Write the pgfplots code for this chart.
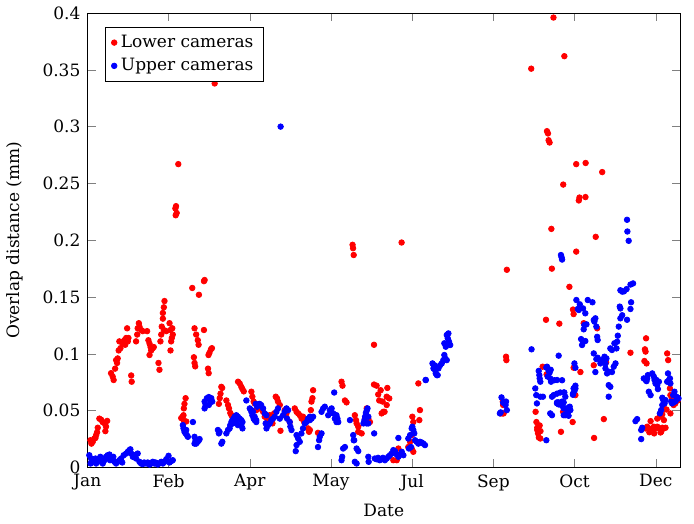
\documentclass[border=0pt]{standalone}
\usepackage{fontspec}
\setmainfont{DejaVu Serif}
\usepackage{pgfplots}
\pgfplotsset{compat=1.18}
\begin{document}
\begin{tikzpicture}[font=\fontsize{8.6}{10}\selectfont]
\begin{axis}[
  scale only axis,
  width=300pt, height=230pt,
  xmin=0, xmax=365, ymin=0, ymax=0.4,
  xtick={0,50,100,150,200,250,300,350},
  xticklabels={Jan,Feb,Apr,May,Jul,Sep,Oct,Dec},
  ytick={0,0.05,0.1,0.15,0.2,0.25,0.3,0.35,0.4},
  yticklabels={0,0.05,0.1,0.15,0.2,0.25,0.3,0.35,0.4},
  /pgf/number format/assume math mode=true,
  xlabel={Date}, ylabel={Overlap distance (mm)},
  ylabel style={yshift=3pt},
  legend pos=north west,
  legend cell align=left,
]
\addplot[only marks, mark=*, mark size=1.4pt, draw=red, fill=red] table {
1.9 0.024
2.5 0.021
3.3 0.0225
4.3 0.0255
5.0 0.026
5.4 0.0285
6.0 0.031
6.4 0.035
7.4 0.043
8.5 0.042
9.4 0.040
10.5 0.039
11.5 0.036
12.2 0.041
11.1 0.032
14.6 0.083
15.6 0.080
16.2 0.077
17.1 0.087
17.7 0.0945
18.7 0.096
18.3 0.092
19.3 0.103
19.7 0.111
20.4 0.105
21.8 0.109
22.8 0.112
23.3 0.108
23.9 0.114
24.5 0.1225
24.9 0.111
25.3 0.114
27.0 0.081
27.3 0.0755
30.0 0.111
30.7 0.117
31.0 0.1225
31.7 0.127
32.1 0.124
33.1 0.121
34.1 0.120
36.8 0.120
37.6 0.112
38.3 0.109
38.9 0.106
38.3 0.099
39.3 0.103
40.3 0.105
40.9 0.106
43.8 0.092
44.4 0.086
45.0 0.111
45.5 0.117
45.8 0.124
46.5 0.131
46.5 0.136
47.1 0.141
47.5 0.1465
47.1 0.121
48.6 0.120
50.6 0.127
51.2 0.121
51.6 0.111
52.0 0.114
52.6 0.117
51.2 0.103
52.3 0.1225
54.2 0.228
54.6 0.230
54.4 0.222
55.0 0.224
56.0 0.267
57.8 0.0435
58.8 0.045
59.2 0.046
59.4 0.052
59.8 0.056
60.5 0.061
60.9 0.0405
59.5 0.041
64.6 0.158
68.7 0.152
71.8 0.164
72.2 0.165
66.0 0.1225
67.0 0.117
68.0 0.112
68.5 0.108
71.8 0.121
65.6 0.097
66.0 0.092
66.4 0.089
74.6 0.099
75.2 0.101
76.1 0.104
76.7 0.105
74.3 0.087
74.7 0.083
78.4 0.338
81.0 0.056
81.5 0.061
82.0 0.065
82.5 0.071
83.0 0.070
85.6 0.059
86.6 0.055
87.2 0.052
88.0 0.048
88.7 0.046
89.5 0.044
92.8 0.0755
93.8 0.074
94.8 0.071
95.5 0.069
96.3 0.067
101.0 0.0667
101.6 0.0623
102.4 0.058
103.0 0.0564
104.0 0.0505
106.0 0.052
108.2 0.049
109.2 0.0447
110.3 0.046
111.0 0.0417
112.3 0.046
113.0 0.040
114.0 0.0388
115.0 0.0476
116.0 0.0623
116.8 0.0608
117.4 0.058
118.5 0.055
118.9 0.0323
121.5 0.0505
122.6 0.0476
124.6 0.040
127.7 0.052
128.8 0.049
129.8 0.0476
130.8 0.046
131.9 0.043
132.8 0.0447
133.5 0.040
134.9 0.0417
135.9 0.0344
136.5 0.0314
137.0 0.033
137.6 0.0505
138.0 0.058
138.6 0.061
139.0 0.068
142.0 0.0305
156.5 0.0755
157.1 0.072
158.6 0.059
159.6 0.0573
163.3 0.196
163.6 0.193
164.0 0.187
164.7 0.046
165.4 0.0417
165.8 0.0388
166.8 0.0359
166.8 0.0314
168.9 0.030
170.9 0.043
172.0 0.052
173.0 0.043
174.0 0.040
176.5 0.108
176.5 0.073
178.1 0.072
179.1 0.0643
179.7 0.059
180.6 0.068
181.2 0.0476
181.8 0.058
182.2 0.049
183.0 0.049
184.3 0.0623
184.7 0.070
185.9 0.0608
184.3 0.055
188.4 0.0064
190.5 0.0064
191.5 0.0167
193.5 0.198
193.5 0.0123
197.6 0.018
198.7 0.0226
199.7 0.0285
199.7 0.0167
200.1 0.0447
200.7 0.040
200.7 0.0138
203.8 0.074
204.4 0.0417
204.8 0.0505
254.5 0.0476
255.5 0.0476
256.3 0.0476
255.8 0.058
256.0 0.055
257.8 0.0975
258.0 0.0945
258.3 0.174
273.3 0.351
276.0 0.049
276.5 0.040
277.0 0.033
277.5 0.030
278.0 0.0264
277.0 0.035
278.5 0.037
279.0 0.032
278.9 0.0255
280.3 0.0887
282.4 0.130
282.8 0.082
283.0 0.296
283.6 0.294
284.0 0.288
284.6 0.286
285.7 0.210
286.0 0.175
287.0 0.396
290.6 0.1266
291.6 0.0314
292.9 0.049
293.0 0.249
293.7 0.362
296.8 0.159
298.8 0.040
299.0 0.139
299.4 0.135
299.4 0.0878
300.5 0.0637
301.0 0.267
301.0 0.190
302.6 0.235
303.0 0.2376
303.6 0.084
305.6 0.127
306.7 0.238
306.8 0.268
311.8 0.090
312.0 0.026
313.0 0.203
313.9 0.1225
317.0 0.260
318.0 0.0426
319.4 0.0925
334.4 0.101
343.0 0.0937
343.3 0.104
343.7 0.102
344.0 0.1137
344.3 0.0916
343.7 0.0344
344.7 0.0359
345.7 0.0344
346.0 0.031
346.8 0.0408
347.8 0.0344
348.8 0.0359
349.0 0.030
349.8 0.0344
350.9 0.0359
351.9 0.0344
352.9 0.0308
353.3 0.0314
354.0 0.035
355.0 0.0344
356.0 0.035
350.9 0.043
352.5 0.0447
354.0 0.0467
355.0 0.0417
354.5 0.0535
356.6 0.051
357.0 0.1004
357.6 0.0945
358.7 0.0696
359.0 0.0637
359.0 0.0476
360.0 0.0608
361.0 0.055
362.0 0.0564
362.7 0.0608
363.5 0.059
};
\addlegendentry{Lower cameras}
\addplot[only marks, mark=*, mark size=1.4pt, draw=blue, fill=blue] table {
1.2 0.0108
2.0 0.0035
2.3 0.0079
3.3 0.0064
4.3 0.005
5.0 0.0079
5.4 0.0035
6.4 0.0064
7.4 0.0079
8.0 0.0094
8.4 0.005
9.5 0.0035
10.5 0.0064
11.5 0.0094
12.0 0.0079
12.5 0.0108
13.6 0.0114
14.0 0.0064
14.6 0.0094
15.6 0.0064
16.0 0.0094
16.7 0.005
17.7 0.0035
18.7 0.005
19.7 0.0064
20.8 0.0079
21.5 0.0044
22.4 0.0108
23.9 0.0123
24.9 0.0138
25.9 0.0153
26.5 0.016
27.0 0.0123
28.0 0.0094
29.0 0.0108
30.0 0.0079
31.0 0.0123
32.1 0.005
33.1 0.0035
34.1 0.003
35.0 0.0044
36.2 0.0035
37.2 0.0044
38.3 0.0026
39.3 0.0035
40.3 0.005
41.3 0.0035
42.0 0.0044
43.4 0.0026
44.4 0.0038
45.5 0.005
46.5 0.0035
47.5 0.005
48.6 0.0073
50.0 0.0103
50.6 0.0044
51.6 0.0056
52.6 0.0064
58.8 0.0373
59.2 0.0344
59.8 0.0314
60.5 0.030
61.3 0.0285
61.9 0.027
60.9 0.033
65.0 0.040
66.0 0.027
66.6 0.024
67.0 0.021
68.0 0.0226
68.7 0.024
69.1 0.025
66.0 0.021
72.2 0.058
72.8 0.055
72.2 0.052
73.6 0.061
74.8 0.062
75.7 0.059
76.3 0.061
76.9 0.058
74.8 0.055
80.4 0.033
81.0 0.030
81.4 0.0314
82.5 0.021
83.1 0.0226
85.6 0.030
86.6 0.033
87.6 0.0344
88.0 0.0373
88.7 0.040
89.3 0.0417
89.7 0.0388
90.1 0.043
90.7 0.0447
91.7 0.046
92.7 0.0447
93.8 0.043
94.8 0.0417
95.5 0.040
94.8 0.0373
95.5 0.0344
92.7 0.0373
91.7 0.040
97.9 0.059
100.0 0.052
101.0 0.049
101.6 0.046
102.4 0.043
103.0 0.0417
104.0 0.040
103.7 0.056
104.5 0.0535
105.0 0.055
101.0 0.0505
102.0 0.049
103.0 0.0447
104.0 0.0417
106.0 0.056
107.0 0.055
108.2 0.052
109.2 0.0476
110.3 0.046
109.8 0.0388
110.3 0.0344
111.3 0.0373
112.3 0.0388
113.3 0.0417
114.3 0.043
115.4 0.0447
116.4 0.049
117.4 0.052
118.5 0.043
119.0 0.300
120.5 0.046
121.5 0.049
122.6 0.052
123.6 0.0505
123.0 0.043
124.6 0.040
125.0 0.036
125.7 0.033
128.8 0.0285
129.8 0.0255
130.8 0.0226
128.8 0.0197
128.3 0.0144
131.8 0.030
132.8 0.0344
133.9 0.0388
134.9 0.040
135.9 0.043
137.0 0.0447
138.0 0.043
139.0 0.0447
137.0 0.0417
142.0 0.018
142.7 0.024
143.1 0.027
144.2 0.030
144.2 0.049
145.2 0.052
146.2 0.0535
148.3 0.046
149.3 0.0505
150.4 0.052
151.4 0.0476
152.4 0.043
153.4 0.040
152.0 0.066
153.4 0.046
154.0 0.043
154.5 0.040
157.5 0.0167
158.6 0.018
156.9 0.0094
156.5 0.0064
161.7 0.0417
163.7 0.0285
164.0 0.024
164.3 0.024
165.8 0.0167
166.8 0.0144
164.7 0.005
165.8 0.0035
170.0 0.0388
170.6 0.0417
171.0 0.0447
171.5 0.048
172.0 0.050
172.5 0.052
173.0 0.0447
172.0 0.0388
173.0 0.0388
176.6 0.030
173.0 0.0094
173.2 0.005
177.0 0.0079
178.0 0.0073
179.0 0.0085
180.0 0.0064
181.0 0.0073
182.0 0.0085
183.2 0.0064
184.3 0.0079
185.3 0.0094
186.3 0.0108
187.4 0.0123
188.4 0.0153
189.4 0.0144
190.5 0.0114
191.5 0.0094
192.5 0.0114
193.6 0.0138
194.6 0.0108
191.5 0.026
197.6 0.0255
198.7 0.0285
199.7 0.0344
200.1 0.0359
200.7 0.033
201.3 0.030
201.8 0.024
202.8 0.0226
203.8 0.021
204.8 0.0226
205.9 0.022
206.9 0.021
207.9 0.0197
198.0 0.0167
199.3 0.018
208.3 0.077
208.4 0.077
212.5 0.0916
213.1 0.0872
213.7 0.090
214.1 0.0857
214.5 0.0828
215.2 0.0813
215.7 0.0813
216.2 0.0872
217.2 0.090
218.2 0.0916
219.2 0.0945
219.8 0.099
220.3 0.096
221.3 0.0945
220.7 0.1063
219.8 0.1093
221.9 0.1137
221.3 0.1166
222.3 0.118
222.7 0.1107
223.4 0.1078
254.0 0.0476
254.5 0.0485
255.0 0.0617
256.0 0.057
256.5 0.058
257.5 0.055
258.3 0.0505
257.8 0.058
273.5 0.104
275.8 0.0696
276.4 0.0637
276.8 0.0564
277.9 0.085
278.3 0.0813
278.5 0.0784
278.9 0.0755
278.9 0.0623
280.5 0.0623
282.6 0.024
282.6 0.088
283.0 0.0887
283.4 0.080
284.0 0.085
284.6 0.0834
285.0 0.0784
285.3 0.086
285.5 0.0755
285.0 0.0476
286.1 0.046
286.1 0.0623
287.1 0.0637
287.5 0.0768
289.2 0.077
289.2 0.065
289.2 0.0573
289.2 0.0564
290.2 0.0984
290.2 0.0555
290.2 0.0573
291.2 0.066
291.6 0.187
292.0 0.185
292.3 0.183
292.3 0.0543
292.3 0.058
292.3 0.0768
293.3 0.066
293.3 0.0573
293.3 0.046
293.3 0.052
293.7 0.066
294.3 0.0623
294.3 0.052
294.3 0.046
295.4 0.0505
295.7 0.0476
296.3 0.0455
296.3 0.0526
297.0 0.0535
297.4 0.0505
299.0 0.065
299.0 0.064
299.4 0.0696
299.9 0.0673
299.9 0.0916
300.5 0.0696
300.5 0.072
300.5 0.0878
301.1 0.1474
302.0 0.1395
302.6 0.1386
303.2 0.1436
304.0 0.113
304.6 0.1078
305.2 0.140
305.2 0.1107
305.6 0.1216
306.0 0.1254
306.6 0.1357
306.6 0.1113
307.3 0.126
308.1 0.1474
311.0 0.1454
311.8 0.1298
311.8 0.1004
312.2 0.1284
312.8 0.1313
312.8 0.084
313.4 0.124
313.4 0.0954
313.9 0.115
314.2 0.1122
314.2 0.0966
315.9 0.0916
317.0 0.0945
318.4 0.0975
319.0 0.0916
319.0 0.0872
319.6 0.096
320.0 0.0828
321.0 0.0843
321.0 0.0725
322.0 0.071
321.0 0.0623
322.0 0.1048
323.0 0.1034
323.0 0.084
324.1 0.0887
324.5 0.1093
325.2 0.0916
325.8 0.1048
326.2 0.1107
326.6 0.116
327.2 0.124
327.8 0.1416
328.2 0.140
328.2 0.1313
328.2 0.156
329.3 0.134
329.3 0.1548
330.4 0.155
332.0 0.157
332.3 0.13
332.3 0.218
332.5 0.2077
333.3 0.1995
334.4 0.161
334.4 0.1395
334.8 0.1454
336.0 0.162
337.5 0.0408
338.5 0.0426
341.0 0.033
341.6 0.035
341.0 0.025
342.6 0.0784
343.7 0.077
344.7 0.0784
345.1 0.0813
344.3 0.076
345.7 0.0667
346.8 0.0637
347.8 0.0828
348.8 0.080
349.2 0.077
349.8 0.074
350.9 0.0725
351.3 0.069
351.9 0.0755
350.4 0.077
354.0 0.0614
354.6 0.0593
354.0 0.055
353.3 0.0505
352.5 0.0476
355.4 0.0564
356.0 0.0593
357.5 0.0828
358.1 0.077
357.0 0.0755
358.7 0.0784
359.0 0.074
359.5 0.058
360.0 0.0564
361.0 0.0573
362.2 0.0584
362.7 0.0623
363.5 0.0614
360.7 0.0637
361.5 0.0667
364.0 0.0608
};
\addlegendentry{Upper cameras}
\end{axis}
\path ([xshift=7pt]current axis.east);
\end{tikzpicture}
\end{document}
